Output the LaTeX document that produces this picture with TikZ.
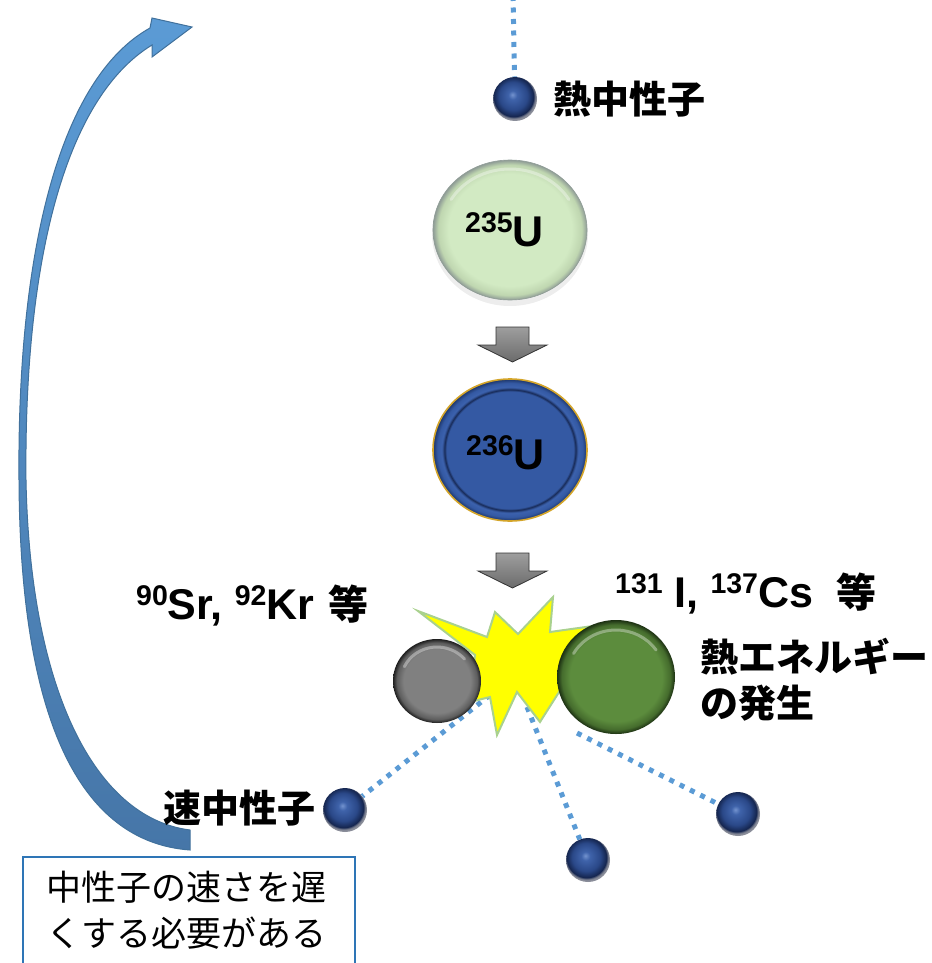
\documentclass[tikz,border=0pt]{standalone}
\usepackage{fontspec}
\setmainfont{Liberation Sans}
\newfontfamily\jp{Noto Sans CJK JP}
\usetikzlibrary{shapes.geometric}

% palette
\definecolor{dotblue}{HTML}{5B9BD5}
\definecolor{arrowtop}{HTML}{5B9BD5}
\definecolor{arrowbot}{HTML}{4676A8}
\definecolor{arrowedge}{HTML}{41719C}
\definecolor{boxblue}{HTML}{2E75B6}
\definecolor{flash}{HTML}{FFFF00}
\definecolor{flashedge}{HTML}{A9D18E}
\definecolor{goldrim}{HTML}{D4A52A}

% neutron
\definecolor{nhi}{HTML}{7393CF}
\definecolor{nmid}{HTML}{3F63AA}
\definecolor{nbase}{HTML}{2A4888}
\definecolor{ndark}{HTML}{152650}
\definecolor{nedge}{HTML}{8A8D99}
% U-235
\definecolor{la}{HTML}{D2EAC3}
\definecolor{lb}{HTML}{BFD6B0}
\definecolor{lc}{HTML}{8F9C96}
% U-236
\definecolor{ua}{HTML}{3459A3}
\definecolor{ub}{HTML}{182B58}
\definecolor{uc}{HTML}{3C62AE}
\definecolor{ud}{HTML}{1C3468}
% fragments
\definecolor{gya}{HTML}{808080}
\definecolor{gyb}{HTML}{5E5E5E}
\definecolor{gyc}{HTML}{1E1E1E}
\definecolor{gra}{HTML}{5C8C3D}
\definecolor{grb}{HTML}{456C2D}
\definecolor{grc}{HTML}{1C3012}

\pgfdeclareradialshading{nshade}{\pgfpoint{-3bp}{5bp}}{color(0bp)=(nhi); color(5bp)=(nmid); color(16bp)=(nbase); color(22.5bp)=(ndark); color(25bp)=(nedge); color(50bp)=(nedge)}
\pgfdeclareradialshading{ushadeA}{\pgfpoint{0bp}{0bp}}{color(0bp)=(la); color(20bp)=(la); color(23.3bp)=(lb); color(25bp)=(lc); color(50bp)=(lc)}
\pgfdeclareradialshading{ushadeB}{\pgfpoint{0bp}{0bp}}{color(0bp)=(ua); color(20.6bp)=(ua); color(21.3bp)=(ub); color(22.1bp)=(uc); color(23.6bp)=(ua); color(25bp)=(ud); color(50bp)=(ud)}
\pgfdeclareradialshading{greyshade}{\pgfpoint{0bp}{0bp}}{color(0bp)=(gya); color(19bp)=(gya); color(22.8bp)=(gyb); color(25bp)=(gyc); color(50bp)=(gyc)}
\pgfdeclareradialshading{greenshade}{\pgfpoint{0bp}{0bp}}{color(0bp)=(gra); color(19.5bp)=(gra); color(23bp)=(grb); color(25bp)=(grc); color(50bp)=(grc)}

\newcommand\bigfont{\fontsize{38}{46}\selectfont\bfseries}
\newcommand\latinfont{\fontsize{43}{46}\selectfont\bfseries}
\newcommand\isotope[1]{\raisebox{14pt}{\fontsize{28.5}{28}\selectfont #1}}

\tikzset{
  dotline/.style={draw=dotblue, line width=5pt, dash pattern=on 5pt off 6.5pt},
  neutron/.style={circle, minimum size=44pt, inner sep=0pt, shade, shading=nshade},
  lbl/.style={font=\bigfont, inner sep=0pt},
  isolbl/.style={font=\latinfont, inner sep=0pt},
  grayarrow/.style={draw=black!80, line width=0.8pt, top color=black!38, bottom color=black!58},
  hilite/.style={white, line width=3pt, line cap=round, opacity=.35},
}

\begin{document}
\begin{tikzpicture}[x=1pt,y=-1pt]
\useasboundingbox (0,0) rectangle (931,963);
\clip (0,0) rectangle (931,963);

% ---- recycling arrow on the left (thin in the middle, wider at both ends)
\shade[top color=arrowtop, bottom color=arrowbot, draw=arrowedge, line width=1pt, line join=miter]
  (152,45) .. controls (62,100) and (24,270) .. (26,480)
           .. controls (30,690) and (95,818) .. (190,830)
  -- (190,850)
           .. controls (80,842) and (20,720) .. (19,480)
           .. controls (17,250) and (60,78) .. (150,28)
  -- (152,18) -- (192,27) -- (152,57) -- cycle;

% ---- neutrons
\node[neutron] (n0)  at (515,99)  {};
\node[neutron] (nf1) at (345,810) {};
\node[neutron] (nf2) at (588,860) {};
\node[neutron] (nf3) at (738,814) {};

% ---- neutron paths
\coordinate (top) at (513,-4);
\coordinate (e1) at (490,695);
\coordinate (e2) at (527,707);
\coordinate (e3) at (577,733);
\draw[dotline] (top) -- (n0);
\draw[dotline] (e1) -- (nf1);
\draw[dotline] (e2) -- (nf2);
\draw[dotline] (e3) -- (nf3);

% ---- U-235
\fill[black, opacity=.07] (510,234) ellipse[x radius=78, y radius=72];
\node[ellipse, minimum width=154pt, minimum height=140pt, inner sep=0pt, shade, shading=ushadeA,
      draw=lc, line width=.6pt] (u235) at (510,230) {};
\draw[hilite] (510,230) ++(-150:68 and 61) arc[start angle=-150, end angle=-30, x radius=68, y radius=61];
\node[isolbl, anchor=base west] (t235) at (465,246) {\isotope{235}U};

% ---- arrows between stages
\draw[grayarrow] (496,327) -- (529,327) -- (529,345) -- (547,345) -- (512.5,362) -- (478,345) -- (496,345) -- cycle;
\draw[grayarrow] (496,553) -- (529,553) -- (529,571) -- (547,571) -- (512.5,588) -- (478,571) -- (496,571) -- cycle;

% ---- U-236
\node[ellipse, minimum width=154pt, minimum height=142pt, inner sep=0pt, shade, shading=ushadeB,
      draw=goldrim, line width=1.6pt] (u236) at (510,450) {};
\node[isolbl, anchor=base west] (t236) at (466,469) {\isotope{236}U};

% ---- fission flash
\filldraw[fill=flash, draw=flashedge, line width=2pt, line join=miter]
  (418,611) -- (487,637) -- (495,612) -- (518,634) -- (553,597) -- (550,632)
  -- (600,625) -- (568,678) -- (540,722) -- (517,692) -- (497,735) -- (490,697)
  -- (470,702) -- (475,655) -- cycle;

% ---- fission fragments
\node[ellipse, minimum width=88pt, minimum height=84pt, inner sep=0pt, shade, shading=greyshade] (fragA) at (437,681) {};
\draw[hilite] (437,681) ++(-155:36 and 34) arc[start angle=-155, end angle=-40, x radius=36, y radius=34];
\node[ellipse, minimum width=118pt, minimum height=114pt, inner sep=0pt, shade, shading=greenshade] (fragB) at (616,677) {};
\draw[hilite] (616,677) ++(-150:49 and 47) arc[start angle=-150, end angle=-35, x radius=49, y radius=47];

% ---- labels
\node[lbl, anchor=west] (lthermal) at (553,99) {\jp 熱中性子};
\node[isolbl, anchor=base west] (lfragA) at (136,619) {\isotope{90}Sr, \isotope{92}Kr {\jp\fontsize{40}{46}\selectfont\kern2pt 等}};
\node[isolbl, anchor=base west] (lfragB) at (615,607) {\isotope{131} I, \isotope{137}Cs\ \ {\jp\fontsize{40}{46}\selectfont 等}};
\node[lbl, anchor=north west, align=left, font=\jp\bigfont] (lheat) at (700,638) {熱エネルギー\\の発生};
\node[lbl, anchor=east] (lfast) at (316,808) {\jp 速中性子};

% ---- note box
\draw[boxblue, line width=1.8pt] (23,857) rectangle (355,1000);
\node[anchor=north west, inner sep=0pt, align=left, font=\jp\fontsize{35}{46}\selectfont] (note) at (46,871)
  {中性子の速さを遅\\くする必要がある};
\end{tikzpicture}
\end{document}
